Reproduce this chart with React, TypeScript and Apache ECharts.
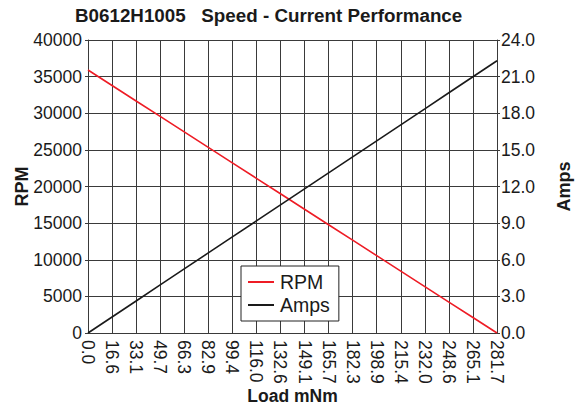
import React, { useEffect, useRef } from "react";
import * as echarts from "echarts";

const loadCategories = ["0.0", "16.6", "33.1", "49.7", "66.3", "82.9", "99.4", "116.0", "132.6", "149.1", "165.7", "182.3", "198.9", "215.4", "232.0", "248.6", "265.1", "281.7"];
const rpmValues = [35900, 33788, 31676, 29565, 27453, 25341, 23229, 21118, 19006, 16894, 14782, 12671, 10559, 8447, 6335, 4224, 2112, 0];
const ampsValues = [0, 1.31, 2.62, 3.94, 5.25, 6.56, 7.87, 9.18, 10.49, 11.81, 13.12, 14.43, 15.74, 17.05, 18.36, 19.68, 20.99, 22.3];

const FONT = "Liberation Sans, Arial, sans-serif";
const TXT = "#1a1a1a";
const GRID = "#3a3a3a";

export default function App() {
  const ref = useRef<HTMLDivElement>(null);
  useEffect(() => {
    if (!ref.current) return;
    const chart = echarts.init(ref.current, undefined, { renderer: "svg" });
    chart.setOption({
      animation: false,
      backgroundColor: "#ffffff",
      textStyle: { fontFamily: FONT },
      title: {
        text: "B0612H1005   Speed - Current Performance",
        left: 70,
        top: 1,
        textStyle: { fontFamily: FONT, fontSize: 18.8, fontWeight: "bold", color: TXT },
      },
      legend: {
        orient: "vertical",
        left: 241,
        top: 266,
        backgroundColor: "#ffffff",
        borderColor: "#222",
        borderWidth: 1,
        borderRadius: 0,
        padding: [6, 9, 6, 7],
        itemWidth: 26,
        itemHeight: 2,
        itemGap: 3,
        icon: "rect",
        textStyle: { fontFamily: FONT, fontSize: 19.5, lineHeight: 20, color: TXT, padding: [0, 0, 0, 1] },
        data: ["RPM", "Amps"],
      },
      grid: { left: 88, right: 84, top: 40, bottom: 73, containLabel: false, outerBoundsMode: "none" },
      xAxis: {
        type: "category",
        data: loadCategories,
        boundaryGap: false,
        name: "Load mNm",
        nameLocation: "middle",
        nameGap: 54,
        nameMoveOverlap: false,
        nameTextStyle: { fontFamily: FONT, fontSize: 17.5, fontWeight: "bold", color: TXT },
        axisLine: { show: true, lineStyle: { color: GRID, width: 1 } },
        axisTick: { show: false },
        axisLabel: { rotate: -90, fontFamily: FONT, fontSize: 17.5, color: TXT, margin: 7, interval: 0 },
        splitLine: { show: true, interval: 0, lineStyle: { color: GRID, width: 1 } },
      },
      yAxis: [
        {
          type: "value",
          min: 0,
          max: 40000,
          interval: 5000,
          name: "RPM",
          nameLocation: "middle",
          nameGap: 57,
          nameRotate: 90,
          nameMoveOverlap: false,
          nameTextStyle: { fontFamily: FONT, fontSize: 18, fontWeight: "bold", color: TXT },
          axisLine: { show: true, lineStyle: { color: GRID, width: 1 } },
          axisTick: { show: true, length: 3, lineStyle: { color: GRID } },
          axisLabel: { fontFamily: FONT, fontSize: 17.5, color: TXT, margin: 6, formatter: (v: number) => String(v) },
          splitLine: { show: true, lineStyle: { color: GRID, width: 1 } },
        },
        {
          type: "value",
          min: 0,
          max: 24,
          interval: 3,
          position: "right",
          name: "Amps",
          nameLocation: "middle",
          nameGap: 58,
          nameRotate: 90,
          nameMoveOverlap: false,
          nameTextStyle: { fontFamily: FONT, fontSize: 18, fontWeight: "bold", color: TXT },
          axisLine: { show: true, lineStyle: { color: GRID, width: 1 } },
          axisTick: { show: true, length: 3, lineStyle: { color: GRID } },
          axisLabel: { fontFamily: FONT, fontSize: 17.5, color: TXT, margin: 4, formatter: (v: number) => v.toFixed(1) },
          splitLine: { show: false },
        },
      ],
      series: [
        {
          name: "RPM",
          type: "line",
          yAxisIndex: 0,
          data: rpmValues,
          showSymbol: false,
          symbol: "none",
          lineStyle: { color: "#ee1c25", width: 1.6 },
          itemStyle: { color: "#ee1c25" },
        },
        {
          name: "Amps",
          type: "line",
          yAxisIndex: 1,
          data: ampsValues,
          showSymbol: false,
          symbol: "none",
          lineStyle: { color: "#1a1a1a", width: 1.6 },
          itemStyle: { color: "#1a1a1a" },
        },
      ],
    });
    return () => chart.dispose();
  }, []);
  return <div ref={ref} style={{ width: 581, height: 406, position: "absolute", left: 0, top: 0 }} />;
}
